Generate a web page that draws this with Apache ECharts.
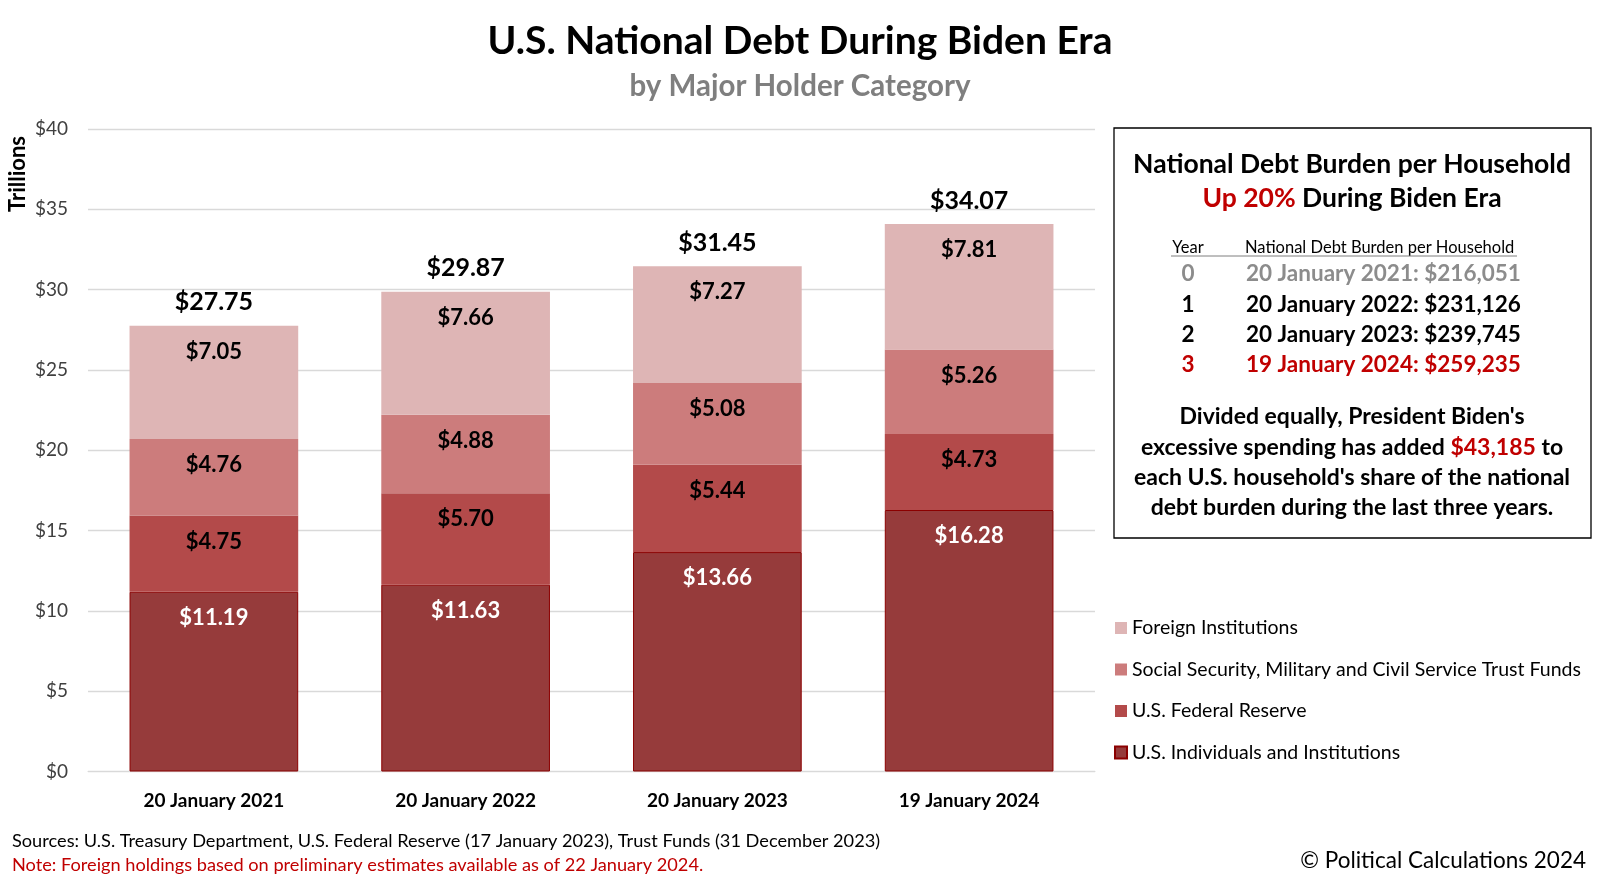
<!DOCTYPE html>
<html><head><meta charset="utf-8">
<script src="https://cdn.jsdelivr.net/npm/echarts@6/dist/echarts.min.js"></script>
<style>html,body{margin:0;padding:0;background:#fff}#c{width:1600px;height:883px}</style>
</head><body><div id="c"></div>
<script>
const categories = ['20 January 2021','20 January 2022','20 January 2023','19 January 2024'];
const individuals = [11.19, 11.63, 13.66, 16.28];
const fedReserve = [4.75, 5.70, 5.44, 4.73];
const trustFunds = [4.76, 4.88, 5.08, 5.26];
const foreign = [7.05, 7.66, 7.27, 7.81];
const totals = [27.75, 29.87, 31.45, 34.07];
const yTicks = [0, 5, 10, 15, 20, 25, 30, 35, 40];
const burdenYears = ['0','1','2','3'];
const burdenRows = ['20 January 2021: $216,051','20 January 2022: $231,126','20 January 2023: $239,745','19 January 2024: $259,235'];

const FONT = 'Lato, "Noto Sans", sans-serif';
const chart = echarts.init(document.getElementById('c'), null, {renderer:'canvas'});

function segLabel(color){
  return {show:true, position:'insideTop', distance:15, color:color, fontFamily:FONT, fontWeight:'bold', fontSize:22,
    formatter: p => '$' + Number(p.value).toFixed(2)};
}

const rowColors = ['#8c8c8c','#000','#000','#c00000'];
const graphics = [
  {type:'text', x:800, y:41, style:{text:'U.S. National Debt During Biden Era', font:'bold 39px '+FONT, fill:'#000', textAlign:'center', textVerticalAlign:'middle'}},
  {type:'text', x:800, y:86, style:{text:'by Major Holder Category', font:'bold 29.5px '+FONT, fill:'#7f7f7f', textAlign:'center', textVerticalAlign:'middle'}},
  {type:'text', x:18, y:174, rotation:Math.PI/2, style:{text:'Trillions', font:'bold 22px '+FONT, fill:'#000', textAlign:'center', textVerticalAlign:'middle'}},
  {type:'rect', shape:{x:1114, y:128, width:477, height:410}, style:{fill:'#fff', stroke:'#000', lineWidth:1.3}},
  {type:'text', x:1352, y:164, style:{text:'National Debt Burden per Household', font:'bold 26.5px '+FONT, fill:'#000', textAlign:'center', textVerticalAlign:'middle'}},
  {type:'text', x:1352, y:198, style:{text:'{r|Up 20%} During Biden Era', font:'bold 26.5px '+FONT, fill:'#000', textAlign:'center', textVerticalAlign:'middle',
     rich:{r:{fill:'#c00000', font:'bold 26.5px '+FONT}}}},
  {type:'text', x:1188, y:248, style:{text:'Year', font:'16.5px '+FONT, fill:'#000', textAlign:'center', textVerticalAlign:'middle'}},
  {type:'text', x:1245, y:248, style:{text:'National Debt Burden per Household', font:'16.5px '+FONT, fill:'#000', textAlign:'left', textVerticalAlign:'middle'}},
  {type:'line', shape:{x1:1171, y1:256, x2:1517, y2:256}, style:{stroke:'#7f7f7f', lineWidth:1}},
  {type:'text', x:1352, y:417, style:{text:"Divided equally, President Biden's", font:'bold 23px '+FONT, fill:'#000', textAlign:'center', textVerticalAlign:'middle'}},
  {type:'text', x:1352, y:448, style:{text:'excessive spending has added {r|$43,185} to', font:'bold 23px '+FONT, fill:'#000', textAlign:'center', textVerticalAlign:'middle',
     rich:{r:{fill:'#c00000', font:'bold 23px '+FONT}}}},
  {type:'text', x:1352, y:478, style:{text:"each U.S. household's share of the national", font:'bold 23px '+FONT, fill:'#000', textAlign:'center', textVerticalAlign:'middle'}},
  {type:'text', x:1352, y:508, style:{text:'debt burden during the last three years.', font:'bold 23px '+FONT, fill:'#000', textAlign:'center', textVerticalAlign:'middle'}},
  {type:'text', x:12, y:841, style:{text:'Sources: U.S. Treasury Department, U.S. Federal Reserve (17 January 2023), Trust Funds (31 December 2023)', font:'18.2px '+FONT, fill:'#000', textVerticalAlign:'middle'}},
  {type:'text', x:12, y:865, style:{text:'Note: Foreign holdings based on preliminary estimates available as of 22 January 2024.', font:'18.2px '+FONT, fill:'#c00000', textVerticalAlign:'middle'}},
  {type:'text', x:1586, y:861, style:{text:'\u00a9 Political Calculations 2024', font:'22.5px '+FONT, fill:'#000', textAlign:'right', textVerticalAlign:'middle'}}
];
burdenYears.forEach((y,i)=>{
  graphics.push({type:'text', x:1188, y:274+30.3*i, style:{text:y, font:'bold 22.5px '+FONT, fill:rowColors[i], textAlign:'center', textVerticalAlign:'middle'}});
  graphics.push({type:'text', x:1246, y:274+30.3*i, style:{text:burdenRows[i], font:'bold 22.5px '+FONT, fill:rowColors[i], textAlign:'left', textVerticalAlign:'middle'}});
});

chart.setOption({
  animation:false,
  backgroundColor:'#fff',
  grid:{left:88, right:505, top:129, bottom:111.5, containLabel:false},
  legend:{orient:'vertical', left:1109, top:613, itemWidth:12, itemHeight:12, itemGap:21.5, icon:'rect',
    textStyle:{fontFamily:FONT, fontSize:19.5, color:'#000'},
    data:['Foreign Institutions','Social Security, Military and Civil Service Trust Funds','U.S. Federal Reserve','U.S. Individuals and Institutions']},
  xAxis:{type:'category', data:categories, axisTick:{show:false},
    axisLine:{lineStyle:{color:'#d9d9d9'}},
    axisLabel:{color:'#000', fontFamily:FONT, fontWeight:'bold', fontSize:19, margin:20}},
  yAxis:{type:'value', min:0, max:40, interval:5,
    axisLabel:{color:'#404040', fontFamily:FONT, fontSize:19, margin:20, formatter: v => yTicks.includes(v) ? '$'+v : ''},
    splitLine:{lineStyle:{color:'#d9d9d9', width:1.3}}},
  graphic:graphics,
  series:[
    {name:'U.S. Individuals and Institutions', type:'bar', stack:'d', barWidth:'67%', data:individuals,
      itemStyle:{color:'#963b3b', borderColor:'#8b0000', borderWidth:1}, label:segLabel('#fff')},
    {name:'U.S. Federal Reserve', type:'bar', stack:'d', data:fedReserve,
      itemStyle:{color:'#b34a4a'}, label:segLabel('#000')},
    {name:'Social Security, Military and Civil Service Trust Funds', type:'bar', stack:'d', data:trustFunds,
      itemStyle:{color:'#cc7c7c'}, label:segLabel('#000')},
    {name:'Foreign Institutions', type:'bar', stack:'d', data:foreign,
      itemStyle:{color:'#deb5b5'}, label:segLabel('#000')},
    {name:'Total', type:'bar', stack:'d', data:totals.map(()=>0), silent:true,
      itemStyle:{color:'transparent'},
      label:{show:true, position:'top', distance:11, color:'#000', fontFamily:FONT, fontWeight:'bold', fontSize:25,
        formatter: p => '$' + totals[p.dataIndex].toFixed(2)}}
  ]
});
</script></body></html>
